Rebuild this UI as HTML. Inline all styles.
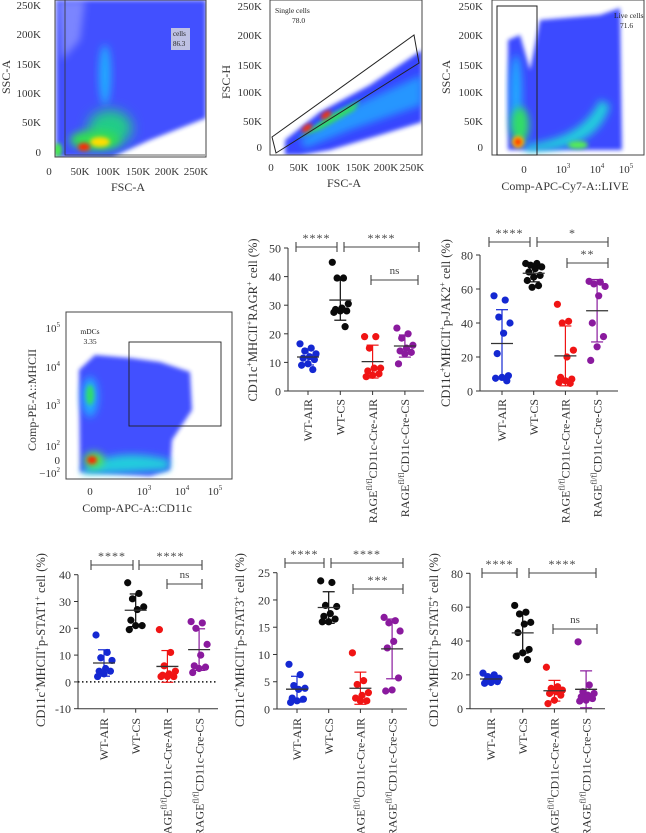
<!DOCTYPE html>
<html><head><meta charset="utf-8">
<style>
html,body{margin:0;padding:0;background:#fff;}
svg{display:block;font-family:"Liberation Serif",serif;}
</style></head>
<body>
<svg id="fig" width="646" height="833" viewBox="0 0 646 833" xmlns="http://www.w3.org/2000/svg">
<defs>
<filter id="b2" x="-50%" y="-50%" width="200%" height="200%"><feGaussianBlur stdDeviation="2"/></filter>
<filter id="b4" x="-50%" y="-50%" width="200%" height="200%"><feGaussianBlur stdDeviation="4"/></filter>
<filter id="b6" x="-50%" y="-50%" width="200%" height="200%"><feGaussianBlur stdDeviation="6"/></filter>
<clipPath id="c1"><rect x="55" y="0" width="151" height="157"/></clipPath>
<clipPath id="c2"><rect x="270" y="0" width="152" height="155"/></clipPath>
<clipPath id="c3"><rect x="492" y="0" width="152" height="155"/></clipPath>
<clipPath id="c4"><rect x="66" y="312" width="166" height="167"/></clipPath>
</defs>

<g>
 <g clip-path="url(#c1)">
  <path d="M56 0 L206 0 L206 118 L150 140 L112 157 L56 157 Z" fill="#2233ff" filter="url(#b2)" opacity="0.85"/>
  <path d="M58 0 L85 0 L80 40 L62 60 Z" fill="#fff" opacity="0.3" filter="url(#b4)"/>
  <ellipse cx="105" cy="75" rx="6" ry="30" fill="#22aaff" filter="url(#b4)"/>
  <ellipse cx="110" cy="128" rx="22" ry="18" fill="#22cc88" filter="url(#b6)"/>
  <ellipse cx="95" cy="140" rx="25" ry="10" fill="#33dd55" filter="url(#b4)"/>
  <ellipse cx="100" cy="142" rx="10" ry="5" fill="#ffdd00" filter="url(#b2)"/>
  <ellipse cx="84" cy="147" rx="6" ry="4" fill="#ff2a00" filter="url(#b2)"/>
  <ellipse cx="58" cy="150" rx="4" ry="7" fill="#44ee44" filter="url(#b2)"/>
 </g>
 <rect x="55" y="0" width="151" height="157" fill="none" stroke="#444" stroke-width="1"/>
 <path d="M65 0 L65 155 L205 155" fill="none" stroke="#333" stroke-width="0.8"/>
 <rect x="171" y="28" width="19" height="22" fill="#ddd" opacity="0.8"/>
 <text x="173" y="36" font-size="7" fill="#222">cells</text>
 <text x="173" y="46" font-size="7" fill="#222">86.3</text>
 <g font-size="11" fill="#333" text-anchor="end">
  <text x="41" y="9">250K</text><text x="41" y="38">200K</text><text x="41" y="68">150K</text>
  <text x="41" y="97">100K</text><text x="41" y="126">50K</text><text x="41" y="156">0</text>
 </g>
 <g font-size="11" fill="#333" text-anchor="middle">
  <text x="49" y="175">0</text><text x="80" y="175">50K</text><text x="108" y="175">100K</text>
  <text x="138" y="175">150K</text><text x="167" y="175">200K</text><text x="196" y="175">250K</text>
 </g>
 <text x="128" y="191" font-size="12" text-anchor="middle" fill="#333">FSC-A</text>
 <text transform="translate(10,77) rotate(-90)" font-size="12" text-anchor="middle" fill="#333">SSC-A</text>
</g>

<g>
 <g clip-path="url(#c2)">
  <path d="M285 140 L320 112 L370 85 L422 50 L422 122 L380 135 L330 150 L300 155 L285 155 Z" fill="#2233ff" filter="url(#b2)" opacity="0.9"/>
  <path d="M300 140 L340 112 L422 75 L422 105 L350 130 L305 148 Z" fill="#22aaff" filter="url(#b4)" opacity="0.8"/>
  <path d="M298 138 L330 115 L360 100 L355 110 L320 130 Z" fill="#33dd66" filter="url(#b2)"/>
  <ellipse cx="307" cy="128" rx="6" ry="3" fill="#ff3300" filter="url(#b2)" transform="rotate(-35 307 128)"/>
  <ellipse cx="326" cy="115" rx="6" ry="3" fill="#ff3300" filter="url(#b2)" transform="rotate(-35 326 115)"/>
 </g>
 <rect x="270" y="0" width="152" height="155" fill="none" stroke="#444" stroke-width="1"/>
 <polygon points="272,137 414,35 419,63 276,153" fill="none" stroke="#222" stroke-width="1"/>
 <text x="275" y="13" font-size="7.5" fill="#222">Single cells</text>
 <text x="292" y="23" font-size="7.5" fill="#222">78.0</text>
 <g font-size="11" fill="#333" text-anchor="end">
  <text x="262" y="10">250K</text><text x="262" y="39">200K</text><text x="262" y="69">150K</text>
  <text x="262" y="96">100K</text><text x="262" y="125">50K</text><text x="262" y="151">0</text>
 </g>
 <g font-size="11" fill="#333" text-anchor="middle">
  <text x="271" y="171">0</text><text x="299" y="171">50K</text><text x="328" y="171">100K</text>
  <text x="358" y="171">150K</text><text x="386" y="171">200K</text><text x="412" y="171">250K</text>
 </g>
 <text x="344" y="187" font-size="12" text-anchor="middle" fill="#333">FSC-A</text>
 <text transform="translate(230,82) rotate(-90)" font-size="12" text-anchor="middle" fill="#333">FSC-H</text>
</g>

<g>
 <g clip-path="url(#c3)">
  <path d="M508 150 L508 40 L520 35 L530 70 L540 20 L600 15 L620 8 L622 150 Z" fill="#2233ff" filter="url(#b2)" opacity="0.88"/>
  <ellipse cx="516" cy="95" rx="6" ry="40" fill="#22aaff" filter="url(#b4)"/>
  <path d="M525 145 C560 140 585 130 600 100 L610 105 C600 140 570 150 525 152 Z" fill="#22ccdd" filter="url(#b4)"/>
  <ellipse cx="520" cy="125" rx="9" ry="18" fill="#33dd66" filter="url(#b4)"/>
  <ellipse cx="518" cy="142" rx="6" ry="6" fill="#ffcc00" filter="url(#b2)"/>
  <ellipse cx="518" cy="142" rx="3.5" ry="3.5" fill="#ff2200" filter="url(#b2)"/>
  <ellipse cx="578" cy="145" rx="10" ry="4" fill="#55ee55" filter="url(#b2)"/>
 </g>
 <rect x="492" y="0" width="152" height="155" fill="none" stroke="#444" stroke-width="1"/>
 <rect x="497" y="6" width="40" height="149" fill="none" stroke="#222" stroke-width="1"/>
 <text x="614" y="18" font-size="7.5" fill="#222">Live cells</text>
 <text x="620" y="28" font-size="7.5" fill="#222">71.6</text>
 <g font-size="11" fill="#333" text-anchor="end">
  <text x="483" y="10">250K</text><text x="483" y="39">200K</text><text x="483" y="69">150K</text>
  <text x="483" y="96">100K</text><text x="483" y="125">50K</text><text x="483" y="151">0</text>
 </g>
 <g font-size="11" fill="#333" text-anchor="middle">
  <text x="524" y="173">0</text>
  <text x="563" y="173">10<tspan font-size="7" dy="-5">3</tspan></text>
  <text x="597" y="173">10<tspan font-size="7" dy="-5">4</tspan></text>
  <text x="626" y="173">10<tspan font-size="7" dy="-5">5</tspan></text>
 </g>
 <text x="565" y="190" font-size="12" text-anchor="middle" fill="#333">Comp-APC-Cy7-A::LIVE</text>
 <text transform="translate(450,77) rotate(-90)" font-size="12" text-anchor="middle" fill="#333">SSC-A</text>
</g>

<g>
 <g clip-path="url(#c4)">
  <path d="M80 472 L79 370 L95 355 L130 358 L160 362 L190 372 L192 410 L172 440 L170 470 L150 476 Z" fill="#2233ff" filter="url(#b2)" opacity="0.85"/>
  <ellipse cx="90" cy="397" rx="8" ry="20" fill="#22aaff" filter="url(#b4)"/>
  <ellipse cx="90" cy="395" rx="4" ry="10" fill="#33dd66" filter="url(#b2)"/>
  <path d="M82 470 C100 455 130 450 170 460 L168 470 C130 472 100 474 82 474 Z" fill="#22ccdd" filter="url(#b4)"/>
  <ellipse cx="94" cy="460" rx="10" ry="8" fill="#55ee44" filter="url(#b4)"/>
  <ellipse cx="92" cy="460" rx="5" ry="4" fill="#ff2200" filter="url(#b2)"/>
 </g>
 <rect x="66" y="312" width="166" height="167" fill="none" stroke="#444" stroke-width="1"/>
 <rect x="129" y="342" width="92" height="84" fill="none" stroke="#222" stroke-width="0.9"/>
 <text x="90" y="334" font-size="7.5" fill="#222" text-anchor="middle">mDCs</text>
 <text x="90" y="344" font-size="7.5" fill="#222" text-anchor="middle">3.35</text>
 <g font-size="11" fill="#333" text-anchor="end">
  <text x="60" y="332">10<tspan font-size="7" dy="-5">5</tspan></text>
  <text x="60" y="371">10<tspan font-size="7" dy="-5">4</tspan></text>
  <text x="60" y="409">10<tspan font-size="7" dy="-5">3</tspan></text>
  <text x="60" y="450">10<tspan font-size="7" dy="-5">2</tspan></text>
  <text x="60" y="464">0</text>
  <text x="60" y="477">−10<tspan font-size="7" dy="-5">2</tspan></text>
 </g>
 <g font-size="11" fill="#333" text-anchor="middle">
  <text x="90" y="495">0</text>
  <text x="144" y="495">10<tspan font-size="7" dy="-5">3</tspan></text>
  <text x="182" y="495">10<tspan font-size="7" dy="-5">4</tspan></text>
  <text x="215" y="495">10<tspan font-size="7" dy="-5">5</tspan></text>
 </g>
 <text x="137" y="512" font-size="12" text-anchor="middle" fill="#333">Comp-APC-A::CD11c</text>
 <text transform="translate(36,400) rotate(-90)" font-size="12" text-anchor="middle" fill="#333">Comp-PE-A::MHCII</text>
</g>

<g id="charts"></g>
</svg>

<script>
const categories = ['WT-AIR', 'WT-CS', 'RAGE-AIR', 'RAGE-CS'];

const ragrWtAir = [16.5, 15, 14, 13, 12, 11.5, 11, 9.5, 9, 7.5];
const ragrWtCs = [45, 39.5, 39.5, 30.5, 29, 28.5, 28, 28, 27.5, 22.5];
const ragrRageAir = [19, 19, 15, 8, 8, 7, 6, 5.5, 5];
const ragrRageCs = [22, 20, 18.5, 16, 15, 14, 13.5, 13, 9.5];
const ragrTicks = [0, 10, 20, 30, 40, 50];

const jak2WtAir = [56, 53.5, 43.5, 40, 34, 22, 9, 8, 7.5, 6];
const jak2WtCs = [75, 75, 74, 73, 72, 70, 68, 67, 65, 62, 61];
const jak2RageAir = [51, 41, 40, 24, 20, 8, 7, 6, 5, 4.5];
const jak2RageCs = [64.5, 64, 63, 61.5, 56, 40, 32, 26, 18];
const jak2Ticks = [0, 20, 40, 60, 80];

const stat1WtAir = [17.5, 11, 9, 8, 5, 4, 4, 3, 2];
const stat1WtCs = [37, 33, 31, 28, 27, 23, 21, 21, 19.5];
const stat1RageAir = [19.5, 11, 6, 4, 3, 2.5, 2, 2, 2];
const stat1RageCs = [22.5, 22, 20, 14, 10, 6, 5.5, 5, 3.5];
const stat1Ticks = [-10, 0, 10, 20, 30, 40];

const stat3WtAir = [8.2, 6.3, 4.3, 3.8, 3.6, 2, 1.8, 1.5, 1.2];
const stat3WtCs = [23.5, 23.2, 19, 18.8, 17.5, 17, 16.5, 16, 16];
const stat3RageAir = [10.3, 5.2, 4.5, 3, 2.5, 2, 1.5, 1.5];
const stat3RageCs = [16.8, 16.2, 15.8, 14.3, 12.4, 11.2, 5.7, 3.5, 3.3];
const stat3Ticks = [0, 5, 10, 15, 20, 25];

const stat5WtAir = [21, 20, 19, 18, 17, 16.5, 16, 15.5, 15];
const stat5WtCs = [61, 57, 56, 51, 50, 45, 35, 33, 31, 29];
const stat5RageAir = [24.5, 13, 12, 11, 10, 9, 8, 5, 3];
const stat5RageCs = [39.5, 14, 10, 9, 8, 7, 6, 5, 4.5];
const stat5Ticks = [0, 20, 40, 60, 80];

const colors = ['#1428d2', '#0a0a0a', '#f01414', '#8a1a9e'];
const NS = 'http://www.w3.org/2000/svg';
const root = document.getElementById('charts');

function mk(tag, attrs, parent) {
  const e = document.createElementNS(NS, tag);
  for (const k in attrs) e.setAttribute(k, attrs[k]);
  parent.appendChild(e);
  return e;
}
function mean(a) { return a.reduce((s, v) => s + v, 0) / a.length; }
function sd(a) { const m = mean(a); return Math.sqrt(a.reduce((s, v) => s + (v - m) * (v - m), 0) / (a.length - 1)); }

function addTitle(g, x, y, marker) {
  const t = mk('text', {transform: 'translate(' + x + ',' + y + ') rotate(-90)', 'font-size': 12.5, 'text-anchor': 'middle', fill: '#333'}, g);
  
  
  const parts = [['CD11c', 0], ['+', 1], ['MHCII', 0], ['+', 1], [marker, 0], ['+', 1], [' cell (%)', 0]];
  parts.forEach(p => {
    const s = mk('tspan', {}, t);
    if (p[1]) { s.setAttribute('font-size', 8); s.setAttribute('dy', -5); }
    else if (t.childNodes.length > 1) { s.setAttribute('dy', 5); }
    s.textContent = p[0];
  });
}

function addCatLabel(g, x, y, i) {
  const t = mk('text', {transform: 'translate(' + (x + 4.2) + ',' + y + ') rotate(-90)', 'font-size': 12, 'text-anchor': 'end', fill: '#333'}, g);
  
  
  if (i < 2) { t.textContent = categories[i]; return; }
  const a = mk('tspan', {}, t); a.textContent = 'RAGE';
  const b = mk('tspan', {'font-size': 8, dy: -5}, t); b.textContent = 'fl/fl';
  const c = mk('tspan', {dy: 5}, t); c.textContent = i === 2 ? 'CD11c-Cre-AIR' : 'CD11c-Cre-CS';
}

function chart(o) {
  const g = mk('g', {}, root);
  
  
  const ticks = o.ticks;
  const vMin = ticks[0], vMax = ticks[ticks.length - 1];
  const yS = v => o.pyMin + (v - vMin) * (o.pyMax - o.pyMin) / (vMax - vMin);
  const xS = i => o.cat0 + i * o.catStep;
  const ya = mk('line', {x1: o.x0, x2: o.x0, y1: yS(vMin), y2: yS(vMax), stroke: '#333', 'stroke-width': 1}, g);
  
  
  ticks.forEach(v => {
    mk('line', {x1: o.x0 - 4, x2: o.x0, y1: yS(v), y2: yS(v), stroke: '#333', 'stroke-width': 1}, g);
    const t = mk('text', {x: o.x0 - 7, y: yS(v) + 4.5, 'font-size': 12, 'text-anchor': 'end', fill: '#333'}, g);
    
    
    t.textContent = v < 0 ? '-' + Math.abs(v) : String(v);
  });
  const xaY = yS(vMin);
  const xa = mk('line', {x1: o.x0, x2: o.xEnd, y1: xaY, y2: xaY, stroke: '#333', 'stroke-width': 1}, g);
  
  
  if (o.dotted) {
    const dl = mk('line', {x1: o.x0, x2: o.xEnd, y1: yS(0), y2: yS(0), stroke: '#111', 'stroke-width': 1.5, 'stroke-dasharray': '1.5,2.5'}, g);
    
    
  }
  o.groups.forEach((arr, i) => {
    const cx = xS(i);
    mk('line', {x1: cx, x2: cx, y1: xaY, y2: xaY + 4, stroke: '#333', 'stroke-width': 1}, g);
    addCatLabel(g, cx, o.labelY, i);
    const m = mean(arr), s = sd(arr);
    const eb = mk('g', {stroke: colors[i], 'stroke-width': 1.2}, g);
    
    
    mk('line', {x1: cx, x2: cx, y1: yS(m + s), y2: yS(Math.max(m - s, vMin))}, eb);
    mk('line', {x1: cx - 6, x2: cx + 6, y1: yS(m + s), y2: yS(m + s)}, eb);
    mk('line', {x1: cx - 6, x2: cx + 6, y1: yS(Math.max(m - s, vMin)), y2: yS(Math.max(m - s, vMin))}, eb);
    arr.forEach((v, j) => {
      const off = (((j * 7) % 11) - 5) * 1.6;
      const c = mk('circle', {cx: cx + off, cy: yS(v), r: 3.6, fill: colors[i]}, g);
      
      
    });
    const ml = mk('line', {x1: cx - 11, x2: cx + 11, y1: yS(m), y2: yS(m), stroke: '#333', 'stroke-width': 1.3}, g);
    
    
  });
  o.brackets.forEach(b => {
    const bg = mk('g', {stroke: '#444', 'stroke-width': 1.1}, g);
    
    
    mk('line', {x1: b[0], x2: b[1], y1: b[2], y2: b[2]}, bg);
    mk('line', {x1: b[0], x2: b[0], y1: b[2] - 5, y2: b[2] + 5}, bg);
    mk('line', {x1: b[1], x2: b[1], y1: b[2] - 5, y2: b[2] + 5}, bg);
    const t = mk('text', {x: (b[0] + b[1]) / 2, y: b[3] === 'ns' ? b[2] - 6 : b[2] - 5, 'font-size': b[3] === 'ns' ? 11 : 12, 'text-anchor': 'middle', fill: '#444', 'letter-spacing': b[3] === 'ns' ? 0 : 1}, g);
    
    
    t.textContent = b[3];
  });
  addTitle(g, o.titleX, o.titleY, o.marker);
}

chart({name: 'chart-ragr', x0: 288, xEnd: 424, pyMin: 391, pyMax: 248, ticks: ragrTicks, cat0: 308, catStep: 32.3,
  groups: [ragrWtAir, ragrWtCs, ragrRageAir, ragrRageCs], labelY: 399, titleX: 257, titleY: 320, marker: 'RAGR',
  brackets: [[296, 337, 247, '****'], [344, 419, 247, '****'], [371, 418, 280, 'ns']]});
chart({name: 'chart-jak2', x0: 480, xEnd: 618, pyMin: 391, pyMax: 255, ticks: jak2Ticks, cat0: 502, catStep: 31.7,
  groups: [jak2WtAir, jak2WtCs, jak2RageAir, jak2RageCs], labelY: 399, titleX: 450, titleY: 323, marker: 'p-JAK2',
  brackets: [[489, 530, 242, '****'], [537, 608, 242, '*'], [567, 608, 263, '**']]});
chart({name: 'chart-stat1', x0: 78, xEnd: 218, pyMin: 708.7, pyMax: 574.7, ticks: stat1Ticks, cat0: 104, catStep: 31.7, dotted: true,
  groups: [stat1WtAir, stat1WtCs, stat1RageAir, stat1RageCs], labelY: 718, titleX: 45, titleY: 640, marker: 'p-STAT1',
  brackets: [[91, 133, 565, '****'], [139, 202, 565, '****'], [167, 202, 584, 'ns']]});
chart({name: 'chart-stat3', x0: 277, xEnd: 407, pyMin: 709, pyMax: 572.7, ticks: stat3Ticks, cat0: 297, catStep: 31.7,
  groups: [stat3WtAir, stat3WtCs, stat3RageAir, stat3RageCs], labelY: 718, titleX: 244, titleY: 640, marker: 'p-STAT3',
  brackets: [[285, 324, 563, '****'], [331, 403, 563, '****'], [353, 403, 589, '***']]});
chart({name: 'chart-stat5', x0: 470, xEnd: 605, pyMin: 708.7, pyMax: 573.3, ticks: stat5Ticks, cat0: 491, catStep: 31.7,
  groups: [stat5WtAir, stat5WtCs, stat5RageAir, stat5RageCs], labelY: 718, titleX: 438, titleY: 640, marker: 'p-STAT5',
  brackets: [[482, 517, 573, '****'], [529, 596, 573, '****'], [553, 597, 629, 'ns']]});
</script>
</body></html>
